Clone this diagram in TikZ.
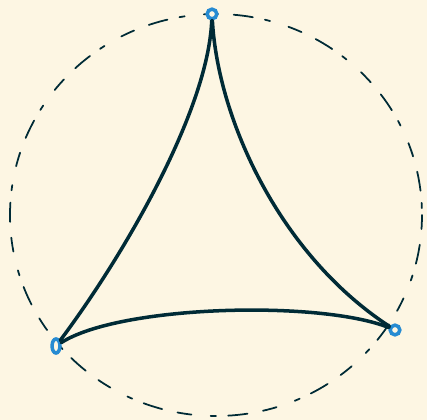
\documentclass[tikz,border=0pt]{standalone}
\usetikzlibrary{arrows.meta,shapes.geometric}
\definecolor{paper}{HTML}{FDF6E3}
\definecolor{ink}{HTML}{002B36}
\definecolor{vblue}{HTML}{268BD2}

\begin{document}
\begin{tikzpicture}[x=0.02cm,y=-0.02cm,line cap=round,
  vertex/.style={circle,draw=vblue,line width=2pt,inner sep=0pt,minimum size=5.5pt,fill=paper},
  side/.style={draw=ink,line width=2pt},
  rim/.style={draw=ink,line width=1pt,dash pattern=on 8pt off 9pt on 11pt off 7pt on 3pt off 11pt}]
% pixel grid of the picture: x right, y down
\fill[paper] (0,0) rectangle (427,420);
\useasboundingbox (0,0) rectangle (427,420);
\coordinate (C) at (216,215);
\draw[rim] (C) ellipse [x radius=206,y radius=201];
\node[vertex] (top) at (212,14) {};
\node[vertex,ellipse,minimum height=8pt,minimum width=4.5pt] (left) at (56,346) {};
\node[vertex] (right) at (395,330) {};
\draw[side] (top) .. controls (208,112) and (122,258) .. (left);
\draw[side] (top) .. controls (218,120) and (280,255) .. (right);
\draw[side] (left) .. controls (120,305) and (320,300) .. (right);
\end{tikzpicture}
\end{document}
